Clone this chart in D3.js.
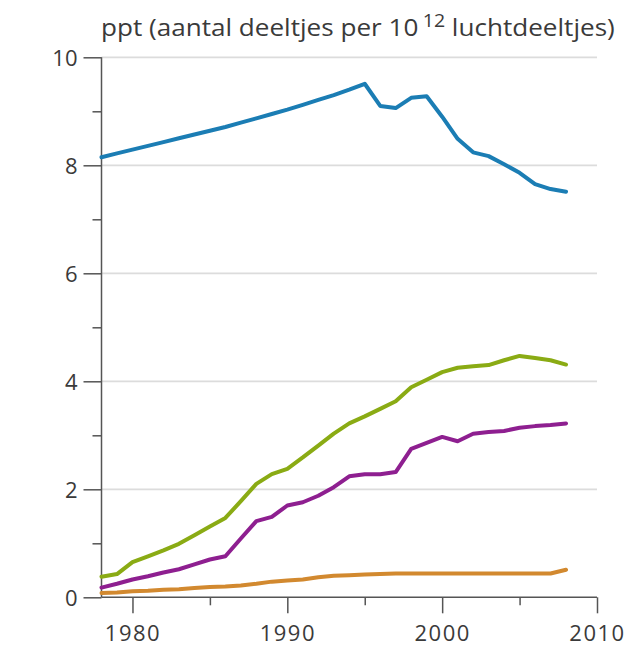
<!DOCTYPE html>
<html>
<head>
<meta charset="utf-8">
<script src="https://cdn.jsdelivr.net/npm/d3@7"></script>
<style>
  html, body { margin: 0; padding: 0; background: #fff; }
  svg { display: block; }
</style>
</head>
<body>
<svg id="chart" width="627" height="648"></svg>
<script>
const years = d3.range(1978, 2009);

const blueValues = [8.15, 8.22, 8.29, 8.36, 8.43, 8.50, 8.57, 8.64, 8.71, 8.79,
  8.87, 8.95, 9.03, 9.12, 9.21, 9.30, 9.40, 9.51, 9.10, 9.06, 9.25, 9.28, 8.90,
  8.49, 8.24, 8.17, 8.02, 7.86, 7.65, 7.56, 7.51];
const greenValues = [0.38, 0.43, 0.65, 0.76, 0.87, 0.99, 1.15, 1.31, 1.47, 1.78,
  2.10, 2.28, 2.38, 2.59, 2.81, 3.03, 3.22, 3.35, 3.49, 3.63, 3.89, 4.03, 4.17,
  4.25, 4.28, 4.30, 4.39, 4.47, 4.43, 4.39, 4.31];
const purpleValues = [0.18, 0.25, 0.33, 0.39, 0.46, 0.52, 0.61, 0.70, 0.76, 1.09,
  1.41, 1.49, 1.70, 1.76, 1.88, 2.04, 2.24, 2.28, 2.28, 2.32, 2.75, 2.86, 2.97,
  2.89, 3.03, 3.06, 3.08, 3.14, 3.17, 3.19, 3.22];
const orangeValues = [0.08, 0.09, 0.11, 0.12, 0.14, 0.15, 0.17, 0.19, 0.20, 0.22,
  0.25, 0.29, 0.31, 0.33, 0.37, 0.40, 0.41, 0.42, 0.43, 0.44, 0.44, 0.44, 0.44,
  0.44, 0.44, 0.44, 0.44, 0.44, 0.44, 0.44, 0.51];

const seriesNames = ["blauw", "groen", "paars", "oranje"];
const seriesColors = ["#1b7db4", "#8aab14", "#8e1f90", "#d2892f"];

const yMajorTicks = [0, 2, 4, 6, 8, 10];
const yMinorTicks = [1, 3, 5, 7, 9];
const xMajorTicks = [1980, 1990, 2000, 2010];
const xMinorTicks = [1985, 1995, 2005];

const titleMain = "ppt (aantal deeltjes per 10";
const titleSup = "12";
const titleEnd = " luchtdeeltjes)";

const series = [blueValues, greenValues, purpleValues, orangeValues].map((vals, i) => ({
  name: seriesNames[i], color: seriesColors[i],
  points: years.map((y, j) => ({ year: y, value: vals[j] }))
}));

const svg = d3.select("#chart");
const x = d3.scaleLinear().domain([1978, 2010]).range([101.5, 597]);
const y = d3.scaleLinear().domain([0, 10]).range([597.3, 57.3]);

// gridlines
svg.append("g").selectAll("line").data(yMajorTicks.filter(d => d > 0)).join("line")
  .attr("x1", x(1978)).attr("x2", x(2010))
  .attr("y1", d => y(d)).attr("y2", d => y(d))
  .attr("stroke", "#dcdcdc").attr("stroke-width", 1.8);

// y axis
const yAxisMajor = d3.axisLeft(y).tickValues(yMajorTicks).tickSize(18).tickPadding(6).tickFormat(d3.format("d"));
const yAxisMinor = d3.axisLeft(y).tickValues(yMinorTicks).tickSize(9).tickFormat("");
const gyMinor = svg.append("g").attr("transform", `translate(${x(1978)},0)`).call(yAxisMinor);
const gy = svg.append("g").attr("transform", `translate(${x(1978)},0)`).call(yAxisMajor);
[gy, gyMinor].forEach(g => {
  g.select(".domain").remove();
  g.selectAll(".tick line").attr("stroke", "#555").attr("stroke-width", 1.5);
});
gy.selectAll(".tick text").attr("font-size", 22).style("font-family", "'Open Sans', sans-serif")
  .attr("fill", "#3a3a3a").attr("dy", "0.36em");

// x axis
const xAxisMajor = d3.axisBottom(x).tickValues(xMajorTicks).tickSize(16).tickPadding(12).tickFormat(d3.format("d"));
const xAxisMinor = d3.axisBottom(x).tickValues(xMinorTicks).tickSize(8).tickFormat("");
const gxMinor = svg.append("g").attr("transform", `translate(0,${y(0)})`).call(xAxisMinor);
const gx = svg.append("g").attr("transform", `translate(0,${y(0)})`).call(xAxisMajor);
[gx, gxMinor].forEach(g => {
  g.select(".domain").remove();
  g.selectAll(".tick line").attr("stroke", "#555").attr("stroke-width", 1.5);
});
gx.selectAll(".tick text").attr("font-size", 22).style("font-family", "'Open Sans', sans-serif")
  .attr("fill", "#3a3a3a").attr("dy", "0.72em").attr("letter-spacing", 1.5);

// axis lines
svg.append("line").attr("x1", x(1978)).attr("x2", x(1978)).attr("y1", y(10)).attr("y2", y(0))
  .attr("stroke", "#555").attr("stroke-width", 1.5);
svg.append("line").attr("x1", x(1978)).attr("x2", x(2010)).attr("y1", y(0)).attr("y2", y(0))
  .attr("stroke", "#555").attr("stroke-width", 1.5);

// lines
const line = d3.line().x(d => x(d.year)).y(d => y(d.value));
svg.append("g").selectAll("path").data(series).join("path")
  .attr("d", d => line(d.points))
  .attr("fill", "none").attr("stroke", d => d.color)
  .attr("stroke-width", 4).attr("stroke-linejoin", "round").attr("stroke-linecap", "round");

// title
const title = svg.append("text").attr("x", 0).attr("y", 0)
  .style("font-family", "'Open Sans', sans-serif").attr("font-size", 24).attr("fill", "#3a3a3a");
title.append("tspan").text(titleMain);
title.append("tspan").attr("dx", 4).attr("dy", -9).attr("font-size", 18).text(titleSup);
title.append("tspan").attr("dy", 9).text(titleEnd);
const tw = title.node().getBBox().width;
title.attr("transform", `translate(101,36) scale(${514 / tw},1)`);
</script>
</body>
</html>
